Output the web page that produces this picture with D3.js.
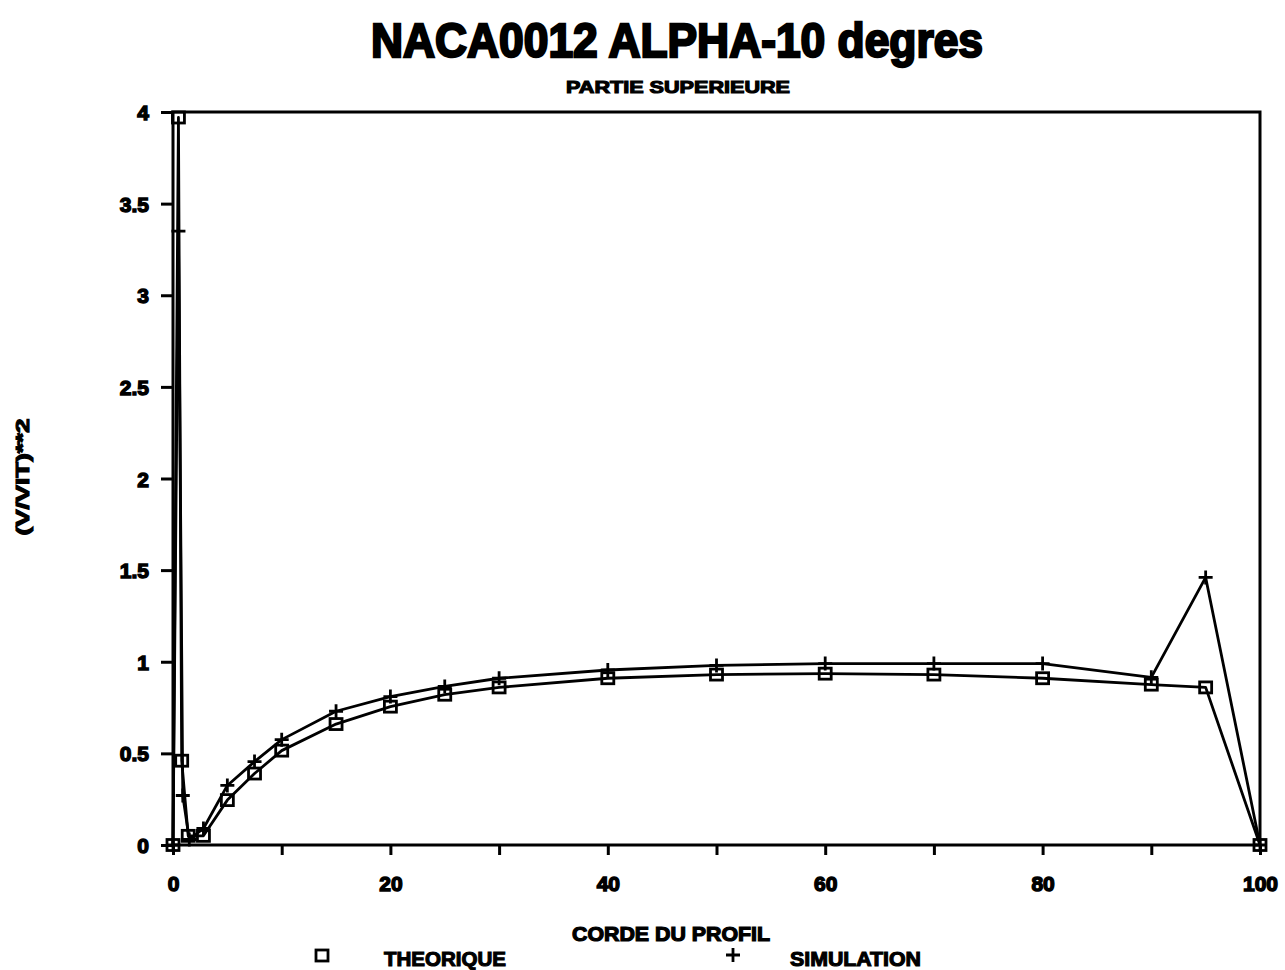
<!DOCTYPE html>
<html>
<head>
<meta charset="utf-8">
<script src="https://cdn.jsdelivr.net/npm/d3@7"></script>
<style>
  html, body { margin: 0; padding: 0; background: #fff; }
  svg { display: block; }
  text { font-family: "Liberation Sans", Arial, sans-serif; font-weight: bold; fill: #000; }
</style>
</head>
<body>
<svg id="chart" width="1285" height="970"></svg>
<script>
// Chord stations (% of chord) and squared velocity ratio on the upper surface
const xTheorique = [0, 0.5, 0.8, 1.4, 2.8, 5, 7.5, 10, 15, 20, 25, 30, 40, 50, 60, 70, 80, 90, 95, 100];
const yTheorique = [0, 3.97, 0.46, 0.05, 0.05, 0.245, 0.39, 0.515, 0.66, 0.755, 0.82, 0.86, 0.91, 0.93, 0.935, 0.93, 0.91, 0.875, 0.86, 0];

const xSimulation = [0, 0.5, 0.9, 1.5, 2.8, 5, 7.5, 10, 15, 20, 25, 30, 40, 50, 60, 70, 80, 90, 95, 100];
const ySimulation = [0, 3.35, 0.27, 0.03, 0.09, 0.325, 0.455, 0.575, 0.73, 0.81, 0.865, 0.91, 0.955, 0.98, 0.99, 0.99, 0.99, 0.915, 1.46, 0];

const yTicks = [0, 0.5, 1, 1.5, 2, 2.5, 3, 3.5, 4];
const xTicks = [0, 10, 20, 30, 40, 50, 60, 70, 80, 90, 100];
const xTickLabels = [0, 20, 40, 60, 80, 100];

const titleText = "NACA0012 ALPHA-10 degres";
const subtitleText = "PARTIE SUPERIEURE";
const xTitle = "CORDE DU PROFIL";
const yTitle = "(V/VIT)**2";
const legendNames = ["THEORIQUE", "SIMULATION"];

const svg = d3.select("#chart");
svg.append("rect").attr("width", 1285).attr("height", 970).attr("fill", "#fff");

const plotLeft = 173, plotRight = 1260, plotTop = 112, plotBottom = 845;
const x = d3.scaleLinear().domain([0, 100]).range([plotLeft, plotRight]);
const y = d3.scaleLinear().domain([0, 4]).range([plotBottom, plotTop]);

// Y axis
const yAxis = svg.append("g")
  .attr("transform", `translate(${plotLeft},0)`)
  .call(d3.axisLeft(y).tickValues(yTicks).tickSize(12).tickPadding(12).tickFormat(d3.format("")));
yAxis.select(".domain").remove();
yAxis.selectAll(".tick line").attr("stroke", "#000").attr("stroke-width", 3);
yAxis.selectAll(".tick text")
  .style("font-size", "21px").style("font-weight", "bold")
  .attr("stroke", "#000").attr("stroke-width", 1.4)
  .attr("dy", "0.36em");

// X axis
const xAxis = svg.append("g")
  .attr("transform", `translate(0,${plotBottom})`)
  .call(d3.axisBottom(x).tickValues(xTicks).tickSize(10).tickPadding(21)
    .tickFormat(d => xTickLabels.includes(d) ? d : ""));
xAxis.select(".domain").remove();
xAxis.selectAll(".tick line").attr("stroke", "#000").attr("stroke-width", 3);
xAxis.selectAll(".tick text")
  .style("font-size", "21px").style("font-weight", "bold")
  .attr("stroke", "#000").attr("stroke-width", 1.4);

// Plot frame
svg.append("rect")
  .attr("x", plotLeft).attr("y", plotTop)
  .attr("width", plotRight - plotLeft).attr("height", plotBottom - plotTop)
  .attr("fill", "none").attr("stroke", "#000").attr("stroke-width", 3);

// Series lines
const line = d3.line().x(d => x(d[0])).y(d => y(d[1]));
const theo = xTheorique.map((v, i) => [v, yTheorique[i]]);
const sim = xSimulation.map((v, i) => [v, ySimulation[i]]);

svg.append("path").datum(theo).attr("d", line)
  .attr("fill", "none").attr("stroke", "#000").attr("stroke-width", 2.8).attr("stroke-linejoin", "round");
svg.append("path").datum(sim).attr("d", line)
  .attr("fill", "none").attr("stroke", "#000").attr("stroke-width", 2.8).attr("stroke-linejoin", "round");

// Square markers
svg.append("g").selectAll("rect").data(theo).join("rect")
  .attr("x", d => x(d[0]) - 6).attr("y", d => y(d[1]) - 5.5)
  .attr("width", 12).attr("height", 11)
  .attr("fill", "none").attr("stroke", "#000").attr("stroke-width", 2.8);

// Plus markers
const plus = s => `M${-s},0H${s}M0,${-s}V${s}`;
svg.append("g").selectAll("path").data(sim).join("path")
  .attr("transform", d => `translate(${x(d[0])},${y(d[1])})`)
  .attr("d", plus(7))
  .attr("fill", "none").attr("stroke", "#000").attr("stroke-width", 2.8);

// Titles
svg.append("text").attr("x", 677).attr("y", 57).attr("text-anchor", "middle")
  .attr("textLength", 612).attr("lengthAdjust", "spacingAndGlyphs")
  .attr("stroke", "#000").attr("stroke-width", 2.4)
  .style("font-size", "48px").text(titleText);
svg.append("text").attr("x", 678).attr("y", 93).attr("text-anchor", "middle")
  .attr("textLength", 224).attr("lengthAdjust", "spacingAndGlyphs")
  .attr("stroke", "#000").attr("stroke-width", 1.1)
  .style("font-size", "17px").text(subtitleText);

svg.append("text").attr("x", 671).attr("y", 941).attr("text-anchor", "middle")
  .attr("textLength", 198).attr("lengthAdjust", "spacingAndGlyphs")
  .attr("stroke", "#000").attr("stroke-width", 1.2)
  .style("font-size", "20px").text(xTitle);

svg.append("text")
  .attr("transform", "translate(29,477) rotate(-90)")
  .attr("text-anchor", "middle")
  .attr("textLength", 117).attr("lengthAdjust", "spacingAndGlyphs")
  .attr("stroke", "#000").attr("stroke-width", 1.1)
  .style("font-size", "19px").text(yTitle);

// Legend
svg.append("rect").attr("x", 316).attr("y", 950).attr("width", 12).attr("height", 11)
  .attr("fill", "none").attr("stroke", "#000").attr("stroke-width", 2.8);
svg.append("text").attr("x", 384).attr("y", 966)
  .attr("textLength", 122).attr("lengthAdjust", "spacingAndGlyphs")
  .attr("stroke", "#000").attr("stroke-width", 1.1)
  .style("font-size", "20px").text(legendNames[0]);
svg.append("path").attr("transform", "translate(733,955)").attr("d", plus(7))
  .attr("fill", "none").attr("stroke", "#000").attr("stroke-width", 2.8);
svg.append("text").attr("x", 790).attr("y", 966)
  .attr("textLength", 131).attr("lengthAdjust", "spacingAndGlyphs")
  .attr("stroke", "#000").attr("stroke-width", 1.1)
  .style("font-size", "20px").text(legendNames[1]);
</script>
</body>
</html>
